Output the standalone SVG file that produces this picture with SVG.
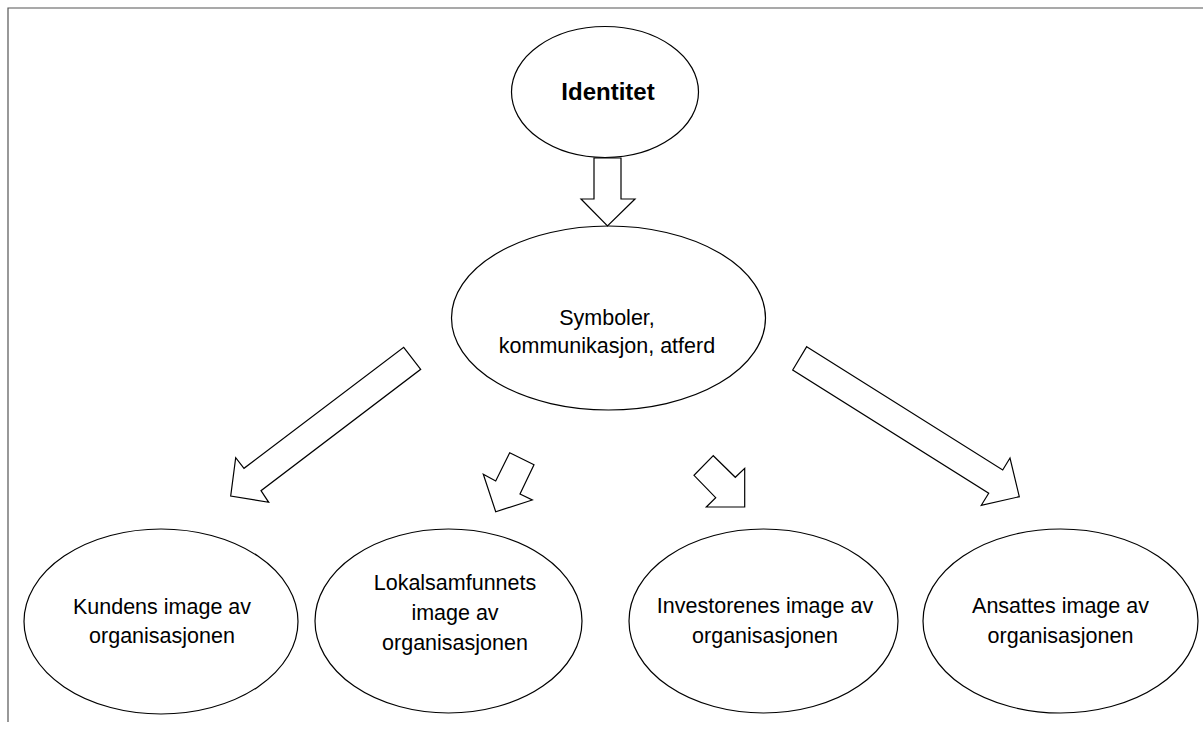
<svg xmlns="http://www.w3.org/2000/svg" width="1203" height="731" viewBox="0 0 1203 731">
<style>
.n{fill:#fff;stroke:#000;stroke-width:1.2}
.a{fill:#fff;stroke:#000;stroke-width:1.2;stroke-linejoin:miter}
.t{font-family:"Liberation Sans",Arial,sans-serif;font-size:21.5px;fill:#000;text-anchor:middle}
.b{font-family:"Liberation Sans",Arial,sans-serif;font-size:24px;font-weight:bold;fill:#000;text-anchor:middle}
.f{fill:none;stroke:#555;stroke-width:1.2}
</style>
<rect width="1203" height="731" fill="#fff"/>
<path class="f" d="M8,722 V8 H1203"/>
<g id="identitet">
<ellipse class="n" cx="605" cy="92" rx="93.5" ry="65.5"/>
<text class="b" x="608" y="99.5">Identitet</text>
</g>
<g id="symboler">
<ellipse class="n" cx="608.5" cy="318" rx="157" ry="92"/>
<text class="t" x="607" y="325">Symboler,</text>
<text class="t" x="607" y="353">kommunikasjon, atferd</text>
</g>
<g id="kunde">
<ellipse class="n" cx="161" cy="621.5" rx="137" ry="92.5"/>
<text class="t" x="162" y="614">Kundens image av</text>
<text class="t" x="162" y="643">organisasjonen</text>
</g>
<g id="lokal">
<ellipse class="n" cx="448.5" cy="621" rx="133.5" ry="92"/>
<text class="t" x="455" y="590">Lokalsamfunnets</text>
<text class="t" x="455" y="620">image av</text>
<text class="t" x="455" y="650">organisasjonen</text>
</g>
<g id="investor">
<ellipse class="n" cx="763.5" cy="621" rx="134.5" ry="92"/>
<text class="t" x="765" y="613">Investorenes image av</text>
<text class="t" x="765" y="643">organisasjonen</text>
</g>
<g id="ansatte">
<ellipse class="n" cx="1060.5" cy="621" rx="137.5" ry="92"/>
<text class="t" x="1060.5" y="613">Ansattes image av</text>
<text class="t" x="1060.5" y="643">organisasjonen</text>
</g>
<g id="connectors">
<polygon class="a" points="594,158 621,158 621,199 635,199 607.5,226 581,199 594,199"/>
<polygon class="a" points="403.7,347.3 420.7,369.3 261,490.7 268.7,502.3 230.7,496 235.7,457.7 244,468.3"/>
<polygon class="a" points="509.7,452.7 534,464.7 520,494 532.3,500 495.7,511.7 483.3,474.3 495.7,481"/>
<polygon class="a" points="713.3,455.7 735.3,477.3 744.7,468.3 744.7,507 706.3,507 715.7,497.7 694,475.3"/>
<polygon class="a" points="806.7,346.7 1002.7,470 1010,458 1019.3,496.7 981.3,505.3 988.7,493.3 792.7,370"/>
</g>
</svg>
